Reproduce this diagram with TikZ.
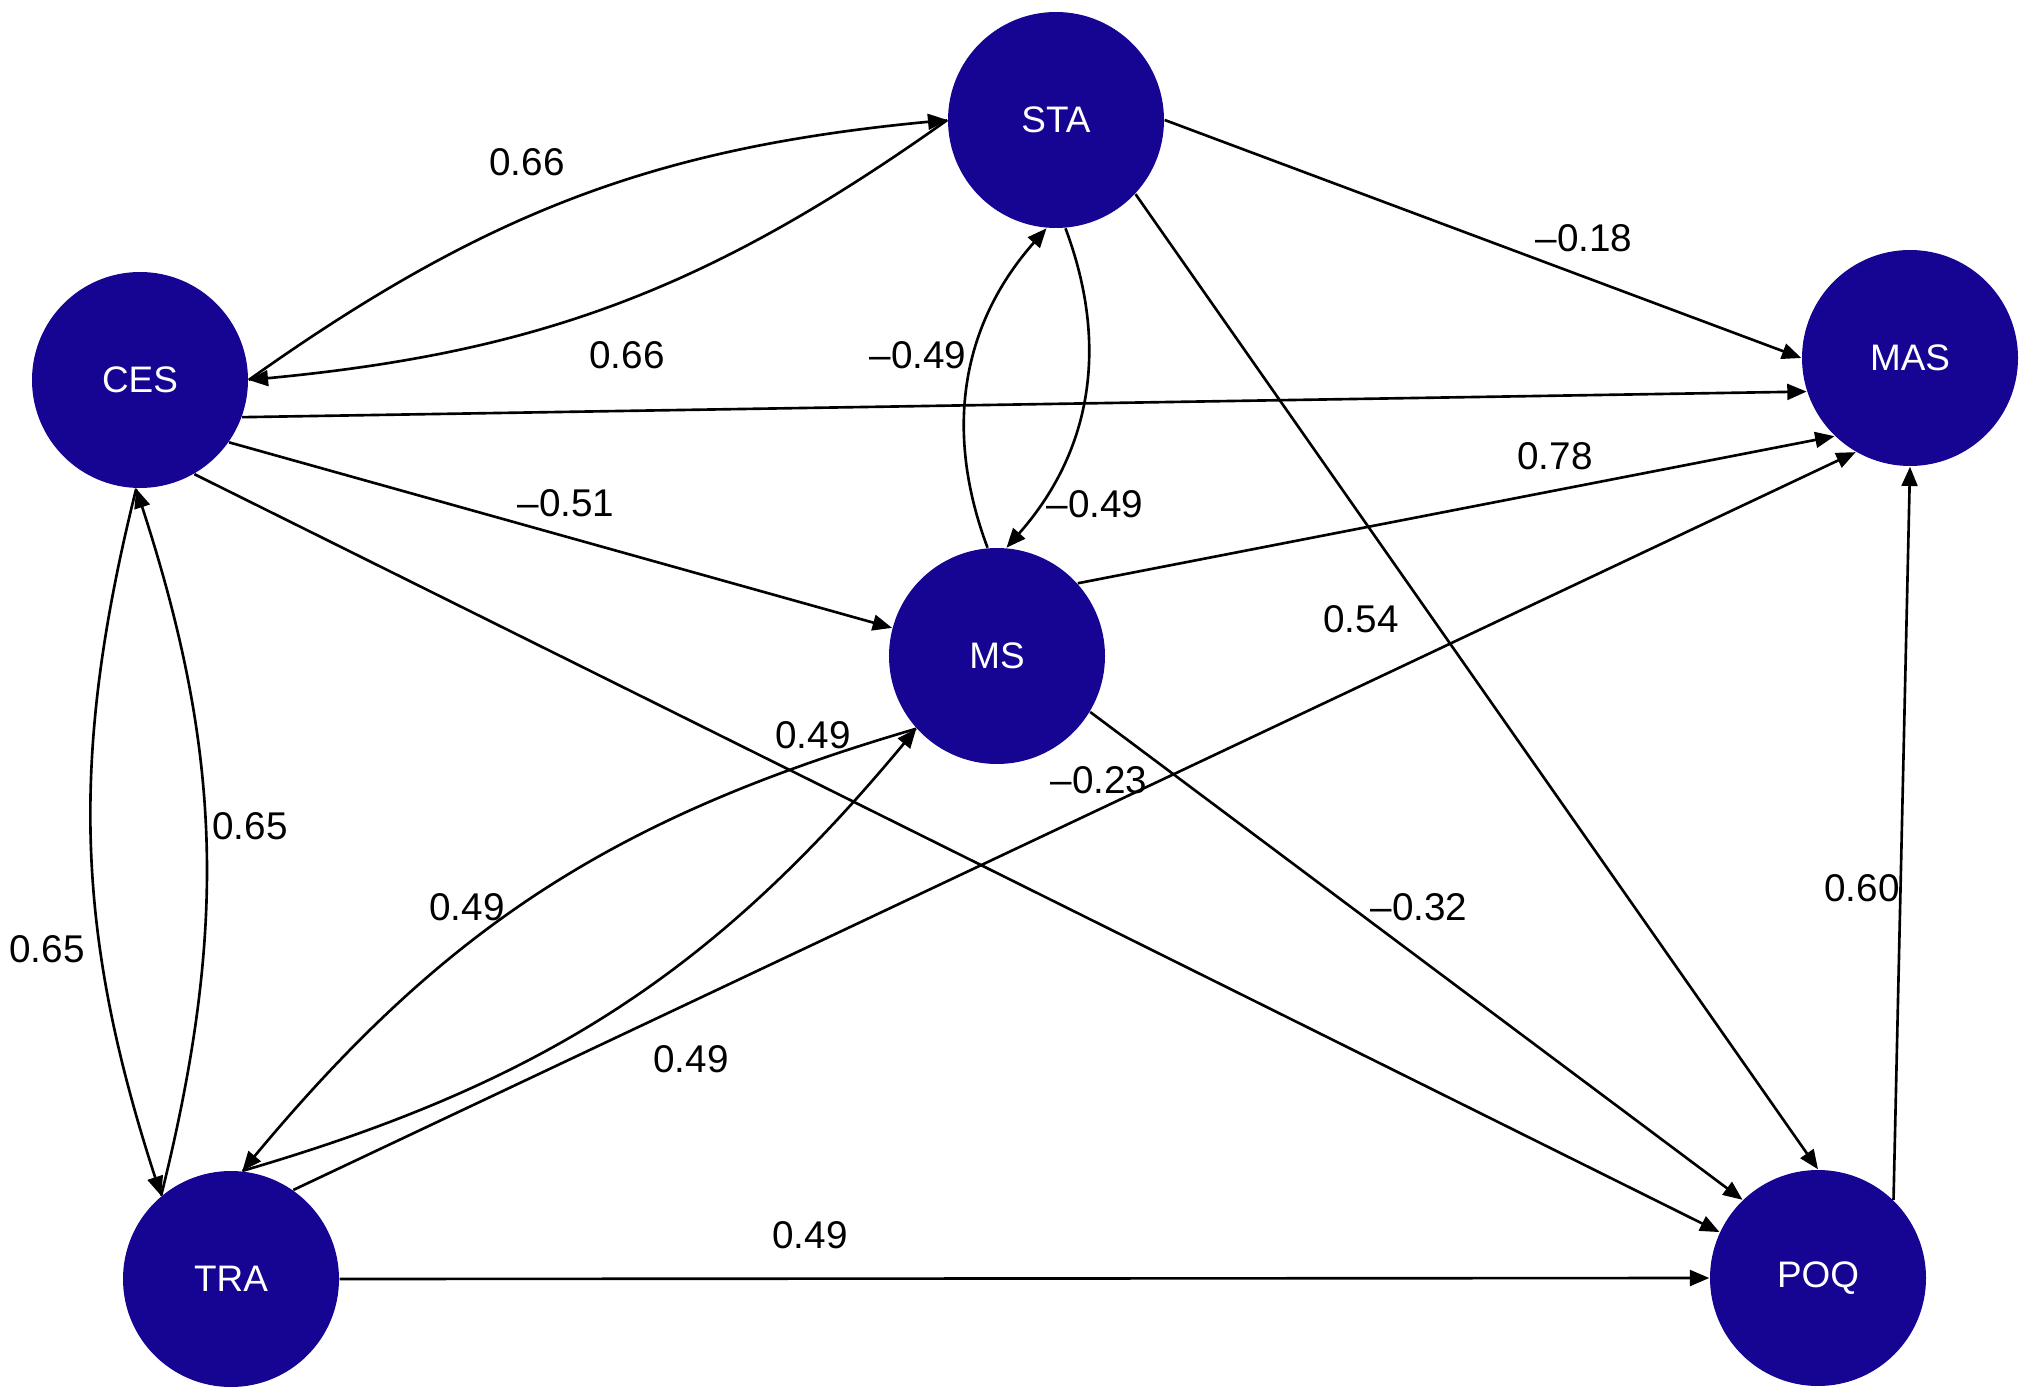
\documentclass[tikz,border=0pt]{standalone}
\usepackage{fontspec}
\setmainfont{Liberation Sans}
\usetikzlibrary{arrows.meta}

\definecolor{latent}{RGB}{22,4,146}

\begin{document}
\begin{tikzpicture}[
		var/.style={circle,fill=latent,text=white,minimum size=2.16cm,inner sep=0pt,font=\fontsize{10.5}{12}\selectfont},
		path/.style={line width=0.75pt,-{Triangle[length=5.5pt,width=4.5pt]}},
		coef/.style={font=\fontsize{11}{13}\selectfont,inner sep=1pt}
	]
			\useasboundingbox (0,0) rectangle (20.32,13.99);
			\node[var] (STA) at (10.56,12.79) {STA};
			\node[var] (CES) at (1.40,10.19) {CES};
			\node[var] (MAS) at (19.10,10.41) {MAS};
			\node[var] (MS) at (9.97,7.43) {MS};
			\node[var] (TRA) at (2.31,1.20) {TRA};
			\node[var] (POQ) at (18.18,1.21) {POQ};
			% covariances drawn as pairs of curves
			\draw[path] (CES.east) to[bend left=15] (STA.west);
			\draw[path] (STA.west) to[bend left=15] (CES.east);
			\draw[path] (MS.95) to[bend left=31] (STA.-95);
			\draw[path] (STA.-85) to[bend left=31] (MS.85);
			\draw[path] (CES.-92) to[bend right=16] (TRA.130);
			\draw[path] (TRA.130) to[bend right=16] (CES.-92);
			\draw[path] (MS.222) to[bend right=17] (TRA.84);
			\draw[path] (TRA.84) to[bend right=17] (MS.222);
			% regressions
			\draw[path] (STA.east) -- (MAS.west);
			\draw[path] (STA.-43) -- (POQ.north);
			\draw[path] (CES.-20) -- (MAS.198);
			\draw[path] (CES.-35) -- (MS.165);
			\draw[path] (CES.-60) -- (POQ.155);
			\draw[path] (MS.42) -- (MAS.226);
			\draw[path] (MS.-31) -- (POQ.134);
			\draw[path] (TRA.55) -- (MAS.240);
			\draw[path] (TRA.east) -- (POQ.west);
			\draw[path] (POQ.46) -- (MAS.south);
			\foreach \x/\y/\val/\name in {5.27/12.37/0.66/c1, 6.27/10.44/0.66/c2, 15.84/11.61/--0.18/c3,
				9.18/10.44/--0.49/c4, 10.95/8.95/--0.49/c5, 15.55/9.43/0.78/c6, 5.66/8.96/--0.51/c7,
				13.61/7.80/0.54/c8, 8.13/6.64/0.49/c9, 10.99/6.19/--0.23/c10, 2.50/5.73/0.65/c11,
				0.47/4.50/0.65/c12, 4.67/4.92/0.49/c13, 14.19/4.92/--0.32/c14, 18.62/5.11/0.60/c15,
				6.91/3.40/0.49/c16, 8.10/1.64/0.49/c17} {
				\node[coef] (\name) at (\x,\y) {\val};
			}
		\end{tikzpicture}
\end{document}
